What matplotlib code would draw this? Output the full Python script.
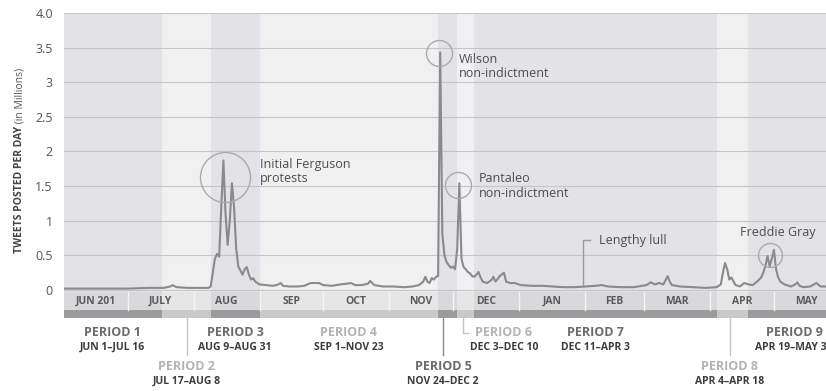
import matplotlib
matplotlib.use('Agg')
import matplotlib.pyplot as plt
from matplotlib.transforms import blended_transform_factory

plt.rcParams['font.family'] = ['Open Sans', 'DejaVu Sans']

# ---------------- data ----------------
# days since 2014-06-01 and tweets per day (millions)
days = [0, 10, 20, 30, 40, 47, 50, 51, 53, 58, 63, 68, 69, 70, 71, 72, 73, 74, 75, 76,
        77, 78, 79, 80, 81, 82, 83, 84, 85, 86, 87, 88, 89, 90, 91, 92, 95, 98, 100, 102,
        103, 106, 110, 113, 116, 118, 120, 122, 126, 130, 133, 135, 137, 140, 143, 144, 146, 150, 155, 160,
        164, 167, 169, 170, 171, 172, 173, 174, 175, 176, 177, 178, 179, 180, 181, 182, 183, 184, 185, 186,
        187, 188, 189, 190, 191, 192, 193, 194, 195, 196, 197, 199, 201, 202, 203, 205, 207, 208, 210, 212,
        215, 220, 225, 230, 235, 240, 245, 250, 253, 256, 262, 268, 274, 276, 278, 280, 282, 284, 285, 286,
        290, 296, 302, 307, 309, 310, 311, 312, 313, 314, 315, 316, 318, 320, 322, 324, 326, 327, 328, 329,
        330, 331, 332, 333, 334, 335, 336, 337, 339, 342, 344, 345, 346, 348, 351, 354, 356, 359, 362, 364]
tweets_millions = [0.02, 0.02, 0.02, 0.02, 0.03, 0.03, 0.05, 0.07, 0.04, 0.03, 0.03, 0.03, 0.05, 0.25, 0.45, 0.52, 0.48, 1.2, 1.87, 1.1,
                   0.65, 1.0, 1.54, 1.2, 0.6, 0.34, 0.28, 0.22, 0.3, 0.33, 0.22, 0.15, 0.17, 0.12, 0.1, 0.08, 0.07, 0.06, 0.07, 0.1,
                   0.06, 0.05, 0.05, 0.06, 0.1, 0.1, 0.1, 0.07, 0.06, 0.08, 0.09, 0.1, 0.07, 0.07, 0.09, 0.13, 0.07, 0.05, 0.05, 0.04,
                   0.05, 0.07, 0.12, 0.19, 0.12, 0.1, 0.17, 0.15, 0.19, 0.2, 3.43, 0.8, 0.5, 0.4, 0.36, 0.32, 0.34, 0.3, 0.6, 1.54,
                   0.45, 0.33, 0.3, 0.26, 0.24, 0.2, 0.19, 0.22, 0.26, 0.18, 0.12, 0.1, 0.14, 0.19, 0.12, 0.2, 0.25, 0.12, 0.1, 0.1,
                   0.07, 0.06, 0.06, 0.05, 0.04, 0.04, 0.05, 0.06, 0.07, 0.05, 0.04, 0.04, 0.07, 0.11, 0.08, 0.1, 0.08, 0.2, 0.12, 0.07,
                   0.05, 0.04, 0.03, 0.04, 0.08, 0.25, 0.39, 0.3, 0.15, 0.18, 0.12, 0.07, 0.05, 0.1, 0.08, 0.07, 0.12, 0.15, 0.18, 0.25,
                   0.35, 0.49, 0.34, 0.45, 0.58, 0.3, 0.18, 0.12, 0.08, 0.05, 0.08, 0.11, 0.06, 0.04, 0.05, 0.1, 0.05, 0.05, 0.04, 0.04]

month_labels = ['JUN 201', 'JULY', 'AUG', 'SEP', 'OCT', 'NOV', 'DEC', 'JAN', 'FEB', 'MAR', 'APR', 'MAY']
month_starts = [0, 30, 61, 92, 122, 153, 183, 214, 245, 273, 304, 334, 365]

period_names = ['PERIOD 1', 'PERIOD 2', 'PERIOD 3', 'PERIOD 4', 'PERIOD 5',
                'PERIOD 6', 'PERIOD 7', 'PERIOD 8', 'PERIOD 9']
period_dates = ['JUN 1–JUL 16', 'JUL 17–AUG 8', 'AUG 9–AUG 31', 'SEP 1–NOV 23', 'NOV 24–DEC 2',
                'DEC 3–DEC 10', 'DEC 11–APR 3', 'APR 4–APR 18', 'APR 19–MAY 31']
period_starts = [0, 46, 69, 92, 176, 185, 193, 307, 322]
period_ends = [46, 69, 92, 176, 185, 193, 307, 322, 365]

y_ticks = [0, 0.5, 1, 1.5, 2, 2.5, 3, 3.5, 4]
y_tick_labels = ['0', '0.5', '1', '1.5', '2', '2.5', '3', '3.5', '4.0']

event_labels = ['Initial Ferguson\nprotests', 'Wilson\nnon-indictment',
                'Pantaleo\nnon-indictment', 'Freddie Gray']
event_days = [75.7, 176.4, 185.4, 332.2]
event_values = [1.63, 3.42, 1.52, 0.505]

lull_label = 'Lengthy lull'
lull_day = 244.2

# ---------------- layout ----------------
W, H = 826, 391
DPI = 100
fig = plt.figure(figsize=(W / DPI, H / DPI), dpi=DPI)
ax_left_px, ax_top_px, ax_bot_px = 64, 13, 318
ax = fig.add_axes([ax_left_px / W, 1 - ax_bot_px / H, 1 - ax_left_px / W, (ax_bot_px - ax_top_px) / H])

YMIN, YMAX = -0.405, 4.0
ax.set_xlim(0, 358.5)
ax.set_ylim(YMIN, YMAX)

def frac(v):
    return (v - YMIN) / (YMAX - YMIN)

DARK_BG, LIGHT_BG = '#e3e3e7', '#f0f0f0'
DARK_ROW, LIGHT_ROW = '#d9d9dc', '#e6e6e6'
DARK_BAR, LIGHT_BAR = '#9b9b9b', '#c9c9c9'
ROW_TOP, ROW_BOT = -0.03, -0.29

for i, (s, e) in enumerate(zip(period_starts, period_ends)):
    dark = (i % 2 == 0)
    ax.axvspan(s, e, ymin=frac(ROW_TOP), ymax=1, color=DARK_BG if dark else LIGHT_BG, lw=0, zorder=0)
    ax.axvspan(s, e, ymin=frac(ROW_BOT), ymax=frac(ROW_TOP), color=DARK_ROW if dark else LIGHT_ROW, lw=0, zorder=0)
    ax.axvspan(s, e, ymin=0, ymax=frac(ROW_BOT), color=DARK_BAR if dark else LIGHT_BAR, lw=0, zorder=0)

# month dividers and labels
for ms in month_starts[1:-1]:
    ax.plot([ms, ms], [ROW_BOT, ROW_TOP], color='#f4f4f4', lw=1.0, zorder=1)
for lab, s, e in zip(month_labels, month_starts[:-1], month_starts[1:]):
    ax.text((s + e) / 2, (ROW_TOP + ROW_BOT) / 2, lab, ha='center', va='center',
            fontsize=7.5, fontweight='bold', color='#5a5a5a', zorder=3)

# grid
for yt in y_ticks:
    ax.axhline(yt, color='#c6c6c6', lw=0.8, zorder=1)

ax.plot(days, tweets_millions, color='#8a8a8a', lw=1.5, zorder=4, solid_joinstyle='round')

for sp in ax.spines.values():
    sp.set_visible(False)
ax.set_xticks([])
ax.set_yticks(y_ticks, y_tick_labels)
ax.tick_params(axis='y', length=0, pad=8, labelsize=9, labelcolor='#555555')

# y label
t1 = fig.text(20 / W, 1 - 253 / H, 'TWEETS POSTED PER DAY', rotation=90, ha='center', va='bottom',
              fontsize=7.5, fontweight='bold', color='#444444')
ax.annotate(' (in Millions)', xy=(0.5, 1), xycoords=t1, rotation=90, ha='center', va='bottom',
            fontsize=7.5, color='#555555')

# event circles and labels
px2pt = 72 / DPI
circle_radius_px = [25, 13, 13, 12]
text_offsets_px = [(35, 5.5), (20, -13.5), (21, -1.5), (8, 22)]
text_ha = ['left', 'left', 'left', 'center']
for lab, d, v, r, off, ha in zip(event_labels, event_days, event_values, circle_radius_px, text_offsets_px, text_ha):
    ax.plot([d], [v], marker='o', ms=2 * r * px2pt, mfc='none', mec='#ababab', mew=1.0, zorder=5)
    ax.annotate(lab, xy=(d, v), xytext=(off[0] * px2pt, off[1] * px2pt), textcoords='offset points',
                ha=ha, va='center', fontsize=9, color='#4d4d4d', linespacing=1.15, zorder=6)

# lengthy lull leader
lull_top = 0.72
ax.plot([lull_day, lull_day, lull_day + 3.3], [0.04, lull_top, lull_top], color='#9a9a9a', lw=1.0, zorder=5)
ax.text(lull_day + 7.5, lull_top, lull_label, ha='left', va='center', fontsize=9, color='#4d4d4d', zorder=6)

# period labels below
trans = blended_transform_factory(ax.transData, fig.transFigure)
def fy(px):
    return 1 - px / H

top_row = {0, 2, 3, 5, 6, 8}
leader_x = {1: 57.7, 4: 178.4, 7: 313.3}
label_x_override = {5: 207.0}
for i, (name, dates, s, e) in enumerate(zip(period_names, period_dates, period_starts, period_ends)):
    name_col = '#6b6b6b' if i % 2 == 0 else '#b3b3b3'
    lead_col = '#8a8a8a' if i % 2 == 0 else '#c4c4c4'
    if i in top_row:
        x = label_x_override.get(i, (s + e) / 2)
        y1, y2 = 332, 347
    else:
        x = leader_x[i]
        y1, y2 = 366, 381
        ax.plot([x, x], [fy(318), fy(355)], transform=trans, color=lead_col, lw=1.0, clip_on=False)
    ax.text(x, fy(y1), name, transform=trans, ha='center', va='center', fontsize=9,
            fontweight='bold', color=name_col)
    ax.text(x, fy(y2), dates, transform=trans, ha='center', va='center', fontsize=7.5,
            fontweight='bold', color='#3c3c3c')

# period 6 elbow leader
ax.plot([187.6, 187.6, 190.0], [fy(318), fy(333), fy(333)], transform=trans, color='#c4c4c4', lw=1.0, clip_on=False)

fig.savefig('out.png', dpi=DPI, facecolor='white')
